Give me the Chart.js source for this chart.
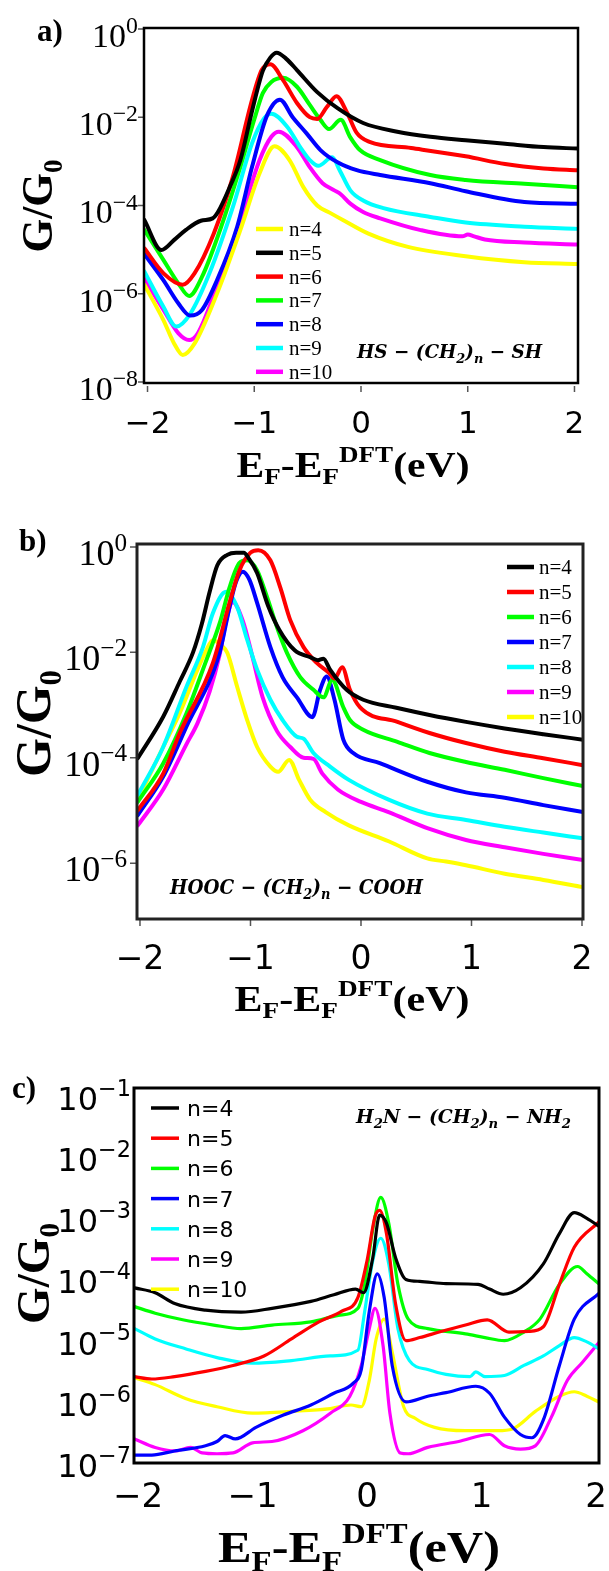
<!DOCTYPE html>
<html lang="en">
<head>
<meta charset="UTF-8">
<title>Conductance vs Fermi energy</title>
<script src="https://cdn.jsdelivr.net/npm/chart.js@4.4.1/dist/chart.umd.min.js"></script>
<style>
  html, body { margin: 0; padding: 0; background: #fff; }
  body { width: 609px; height: 1571px; position: relative; overflow: hidden; }
  canvas { position: absolute; left: 0; }
</style>
</head>
<body>
<canvas id="panelA" width="609" height="500" style="top:0px"></canvas>
<canvas id="panelB" width="609" height="540" style="top:500px"></canvas>
<canvas id="panelC" width="609" height="531" style="top:1040px"></canvas>
<script>
// ---- data: x = E_F - E_F^DFT (eV), g = G/G0 ----
const seriesNames = ['n=4', 'n=5', 'n=6', 'n=7', 'n=8', 'n=9', 'n=10'];
const xTicks = [-2, -1, 0, 1, 2];
const xTickLabels = ['\u22122', '\u22121', '0', '1', '2'];

// panel a) HS-(CH2)n-SH
const aX4 = [-2.03,-1.85,-1.75,-1.67,-1.56,-1.35,-1.13,-0.95,-0.81,-0.67,-0.54,-0.41,-0.29,-0.17,0.07,0.44,0.98,1.53,2.03];
const aG4 = [1.6e-6,2.5e-7,7.4e-8,4.1e-8,7.4e-8,1.0e-6,2.8e-5,5.4e-4,2.2e-3,1.07e-3,2.6e-4,1.0e-4,6.8e-5,4.7e-5,2.3e-5,1.15e-5,7.1e-6,5.2e-6,4.7e-6];
const aX5 = [-2.03,-1.87,-1.75,-1.64,-1.50,-1.39,-1.34,-1.23,-1.13,-1.02,-0.92,-0.85,-0.79,-0.70,-0.60,-0.41,-0.22,0.02,0.34,0.65,0.98,1.35,1.71,2.03];
const aG5 = [4.7e-5,9.8e-6,1.66e-5,2.8e-5,4.5e-5,5.1e-5,7.1e-5,2.6e-4,1.07e-3,1.4e-2,0.112,0.224,0.29,0.21,0.117,3.7e-2,1.6e-2,7.4e-3,4.7e-3,3.6e-3,3.0e-3,2.5e-3,2.1e-3,1.95e-3];
const aX6 = [-2.03,-1.85,-1.67,-1.56,-1.38,-1.20,-1.02,-0.93,-0.85,-0.73,-0.60,-0.48,-0.41,-0.32,-0.23,-0.13,-0.04,0.08,0.47,0.98,1.35,1.71,2.03];
const aG6 = [1.07e-5,2.9e-6,1.6e-6,2.9e-6,2.3e-5,4.5e-4,2.5e-2,0.117,0.158,6.9e-2,2.1e-2,1.0e-2,9.1e-3,1.7e-2,3.0e-2,1.26e-2,4.4e-3,2.75e-3,2.0e-3,1.3e-3,8.7e-4,6.9e-4,6.3e-4];
const aX7 = [-2.03,-1.85,-1.71,-1.61,-1.49,-1.31,-1.13,-1.0,-0.92,-0.84,-0.73,-0.60,-0.48,-0.38,-0.30,-0.19,-0.10,-0.01,0.18,0.65,0.98,1.53,2.03];
const aG7 = [2.8e-5,5.8e-6,1.7e-6,8.9e-7,2.4e-6,3.3e-5,7.6e-4,8.9e-3,3.5e-2,6.3e-2,7.8e-2,4.9e-2,1.9e-2,8.7e-3,5.4e-3,8.7e-3,3.5e-3,1.8e-3,1.07e-3,4.9e-4,3.8e-4,3.1e-4,2.6e-4];
const aX8 = [-2.03,-1.85,-1.71,-1.60,-1.49,-1.35,-1.16,-1.02,-0.88,-0.76,-0.64,-0.51,-0.38,-0.22,-0.04,0.18,0.65,0.98,1.53,2.03];
const aG8 = [7.9e-6,2.0e-6,6.0e-7,3.2e-7,4.3e-7,2.0e-6,3.3e-5,7.6e-4,1.1e-2,2.5e-2,1.0e-2,4.3e-3,1.8e-3,9.5e-4,6.3e-4,4.9e-4,3.2e-4,2.1e-4,1.2e-4,1.1e-4];
const aX9 = [-2.03,-1.85,-1.73,-1.60,-1.42,-1.20,-1.02,-0.91,-0.84,-0.69,-0.57,-0.48,-0.40,-0.27,-0.20,-0.10,0.02,0.21,0.65,0.98,1.53,2.03];
const aG9 = [3.2e-6,5.0e-7,1.8e-7,3.5e-7,2.9e-6,9.3e-5,2.6e-3,9.3e-3,1.2e-2,6.0e-3,2.1e-3,1.07e-3,7.9e-4,1.23e-3,6.3e-4,2.2e-4,1.3e-4,8.7e-5,5.5e-5,4.1e-5,3.3e-5,2.95e-5];
const aX10 = [-2.03,-1.85,-1.71,-1.61,-1.53,-1.35,-1.13,-0.95,-0.84,-0.77,-0.60,-0.48,-0.36,-0.25,-0.19,-0.10,0.02,0.18,0.55,0.95,1.0,1.06,1.16,1.53,2.03];
const aG10 = [2.2e-6,4.3e-7,1.26e-7,8.9e-8,1.26e-7,1.45e-6,4.7e-5,1.07e-3,3.6e-3,4.7e-3,2.1e-3,7.4e-4,3.2e-4,2.2e-4,1.8e-4,1.1e-4,7.1e-5,5.1e-5,2.8e-5,2.0e-5,2.2e-5,2.0e-5,1.7e-5,1.45e-5,1.3e-5];

// panel b) HOOC-(CH2)n-COOH
const bX4 = [-2.02,-1.79,-1.64,-1.52,-1.44,-1.37,-1.30,-1.21,-1.13,-1.06,-1.02,-0.94,-0.84,-0.74,-0.60,-0.46,-0.39,-0.34,-0.28,-0.13,0.02,0.32,0.62,0.95,1.3,1.65,2.01];
const bG4 = [9.8e-5,6.0e-4,2.8e-3,1.0e-2,3.5e-2,0.14,0.45,0.71,0.78,0.78,0.63,0.32,7.6e-2,2.7e-2,1.1e-2,8.1e-3,7.1e-3,7.6e-3,4.7e-3,1.95e-3,1.26e-3,8.9e-4,6.5e-4,4.8e-4,3.6e-4,2.8e-4,2.2e-4];
const bX5 = [-2.02,-1.79,-1.64,-1.34,-1.19,-1.10,-1.00,-0.93,-0.82,-0.73,-0.64,-0.52,-0.40,-0.29,-0.24,-0.17,-0.10,-0.01,0.33,0.62,0.95,1.3,1.65,2.01];
const bG5 = [1.0e-5,5.0e-5,2.95e-4,6.3e-3,8.7e-2,0.36,0.78,0.87,0.56,0.17,4.1e-2,1.26e-2,6.3e-3,4.1e-3,3.2e-3,5.2e-3,1.95e-3,9.1e-4,4.8e-4,2.95e-4,1.9e-4,1.3e-4,9.8e-5,7.2e-5];
const bX6 = [-2.02,-1.79,-1.58,-1.41,-1.27,-1.19,-1.10,-1.03,-0.94,-0.85,-0.76,-0.67,-0.55,-0.43,-0.34,-0.26,-0.16,-0.10,0.02,0.33,0.62,0.95,1.3,1.65,2.01];
const bG6 = [1.45e-5,7.8e-5,6.9e-4,6.2e-3,4.1e-2,0.17,0.5,0.56,0.36,0.112,3.0e-2,9.8e-3,3.4e-3,1.95e-3,1.4e-3,3.0e-3,9.1e-4,5.2e-4,3.4e-4,2.0e-4,1.23e-4,8.3e-5,5.9e-5,4.1e-5,2.9e-5];
const bX7 = [-2.02,-1.79,-1.58,-1.28,-1.19,-1.13,-1.07,-1.01,-0.94,-0.82,-0.71,-0.58,-0.44,-0.37,-0.31,-0.24,-0.16,-0.07,0.17,0.6,0.95,1.3,1.65,2.01];
const bG7 = [8.1e-6,4.4e-5,3.9e-4,9.8e-3,7.2e-2,0.22,0.34,0.24,8.7e-2,1.26e-2,3.4e-3,1.4e-3,5.9e-4,1.95e-3,3.5e-3,1.26e-3,2.2e-4,1.23e-4,7.9e-5,3.5e-5,2.2e-5,1.74e-5,1.26e-5,9.3e-6];
const bX8 = [-2.02,-1.79,-1.58,-1.43,-1.34,-1.22,-1.12,-1.03,-0.94,-0.82,-0.71,-0.58,-0.52,-0.43,-0.28,-0.11,0.25,0.6,0.95,1.3,1.65,2.01];
const bG8 = [1.95e-5,1.6e-4,2.2e-3,1.26e-2,5.6e-2,0.141,7.2e-2,1.74e-2,4.7e-3,1.26e-3,5.2e-4,2.5e-4,2.3e-4,1.23e-4,6.8e-5,3.8e-5,1.6e-5,8.7e-6,6.6e-6,4.9e-6,3.8e-6,2.95e-6];
const bX9 = [-2.02,-1.79,-1.58,-1.48,-1.37,-1.28,-1.22,-1.16,-1.07,-0.98,-0.89,-0.76,-0.64,-0.52,-0.43,-0.35,-0.21,0,0.25,0.6,0.95,1.3,1.65,2.01];
const bG9 = [5.2e-6,2.5e-5,1.8e-4,4.5e-4,1.8e-3,8.9e-3,4.0e-2,8.9e-2,4.0e-2,7.9e-3,1.4e-3,3.2e-4,1.6e-4,1.0e-4,9.5e-5,5.0e-5,2.5e-5,1.45e-5,9.3e-6,4.6e-6,2.75e-6,2.0e-6,1.5e-6,1.15e-6];
const bX10 = [-2.02,-1.79,-1.64,-1.48,-1.40,-1.34,-1.27,-1.21,-1.12,-1.03,-0.94,-0.82,-0.75,-0.65,-0.56,-0.46,-0.32,-0.11,0.25,0.6,0.77,0.95,1.3,1.65,2.01];
const bG10 = [1.6e-5,1.6e-4,7.1e-4,4.7e-3,1.1e-2,1.7e-2,1.4e-2,9.8e-3,2.2e-3,5.2e-4,1.6e-4,6.8e-5,5.4e-5,9.1e-5,3.8e-5,1.6e-5,9.3e-6,5.2e-6,2.6e-6,1.23e-6,1.07e-6,9.1e-7,6.3e-7,4.8e-7,3.5e-7];

// panel c) H2N-(CH2)n-NH2
const cX4 = [-2.03,-1.85,-1.68,-1.41,-1.10,-0.83,-0.49,-0.29,-0.10,-0.03,0.05,0.11,0.17,0.25,0.34,0.46,0.69,0.97,1.07,1.19,1.34,1.54,1.68,1.81,1.92,2.03];
const cG4 = [6.5e-5,5.4e-5,3.6e-5,2.8e-5,2.6e-5,3.0e-5,3.9e-5,5.0e-5,6.2e-5,5.4e-5,2.0e-4,1.0e-3,7.4e-4,2.0e-4,8.9e-5,8.3e-5,7.6e-5,7.4e-5,6.2e-5,5.1e-5,6.5e-5,1.6e-4,5.0e-4,1.1e-3,8.9e-4,6.5e-4];
const cX5 = [-2.03,-1.88,-1.68,-1.41,-1.17,-0.90,-0.66,-0.42,-0.22,-0.08,0,0.07,0.11,0.17,0.25,0.34,0.46,0.63,0.86,1.05,1.24,1.41,1.54,1.68,1.81,2.03];
const cG5 = [2.3e-6,2.1e-6,2.3e-6,2.8e-6,3.5e-6,5.0e-6,9.5e-6,1.8e-5,2.7e-5,4.5e-5,1.8e-4,9.5e-4,1.2e-3,5.0e-4,3.5e-5,8.9e-6,1.0e-5,1.23e-5,1.6e-5,1.95e-5,1.23e-5,1.26e-5,1.5e-5,7.4e-5,3.0e-4,7.9e-4];
const cX6 = [-2.03,-1.85,-1.61,-1.34,-1.10,-0.83,-0.49,-0.25,-0.08,-0.02,0.05,0.12,0.19,0.27,0.36,0.53,0.86,1.03,1.20,1.37,1.51,1.68,1.84,1.92,2.03];
const cG6 = [3.2e-5,2.5e-5,1.95e-5,1.6e-5,1.4e-5,1.6e-5,1.8e-5,2.3e-5,3.0e-5,7.4e-5,5.8e-4,1.95e-3,7.4e-4,7.4e-5,2.0e-5,1.4e-5,1.15e-5,1.0e-5,8.9e-6,1.23e-5,2.0e-5,7.4e-5,1.45e-4,1.1e-4,7.4e-5];
const cX7 = [-2.03,-1.88,-1.68,-1.41,-1.31,-1.24,-1.15,-0.97,-0.73,-0.49,-0.29,-0.12,-0.05,0.02,0.09,0.15,0.22,0.34,0.53,0.69,0.95,1.07,1.20,1.34,1.44,1.54,1.68,1.81,2.03];
const cG7 = [1.2e-7,1.2e-7,1.4e-7,1.7e-7,2.0e-7,2.5e-7,2.2e-7,3.4e-7,5.4e-7,7.9e-7,1.23e-6,1.8e-6,3.0e-6,2.7e-5,1.1e-4,4.5e-5,3.5e-6,8.9e-7,1.1e-6,1.26e-6,1.6e-6,1.23e-6,5.0e-7,2.6e-7,2.3e-7,4.5e-7,3.5e-6,2.0e-5,5.4e-5];
const cX8 = [-2.03,-1.85,-1.58,-1.31,-1.00,-0.66,-0.32,-0.08,-0.02,0.05,0.12,0.19,0.27,0.37,0.53,0.69,0.90,0.95,1.03,1.20,1.37,1.54,1.68,1.81,1.92,2.03];
const cG8 = [1.4e-5,9.5e-6,6.5e-6,4.7e-6,3.8e-6,4.2e-6,5.0e-6,6.2e-6,2.7e-5,1.8e-4,4.2e-4,1.6e-4,1.4e-5,4.2e-6,3.0e-6,2.5e-6,2.3e-6,2.75e-6,2.3e-6,2.4e-6,3.5e-6,5.0e-6,7.4e-6,1.0e-5,8.5e-6,6.5e-6];
const cX9 = [-2.03,-1.85,-1.68,-1.54,-1.44,-1.31,-1.17,-1.00,-0.83,-0.56,-0.32,-0.15,-0.05,0.02,0.07,0.14,0.20,0.29,0.36,0.53,0.80,1.07,1.20,1.34,1.47,1.61,1.75,1.88,2.03];
const cG9 = [2.2e-7,1.6e-7,1.4e-7,1.6e-7,1.3e-7,1.26e-7,1.3e-7,1.9e-7,2.0e-7,3.0e-7,5.8e-7,1.1e-6,3.5e-6,1.4e-5,3.0e-5,7.4e-6,5.8e-7,1.3e-7,1.26e-7,1.6e-7,2.0e-7,2.6e-7,1.7e-7,1.5e-7,1.7e-7,5.0e-7,2.0e-6,3.9e-6,8.5e-6];
const cX10 = [-2.03,-1.85,-1.58,-1.31,-1.00,-0.66,-0.32,-0.14,-0.05,0.02,0.08,0.15,0.22,0.32,0.42,0.59,0.86,1.14,1.27,1.47,1.68,1.81,1.92,2.03];
const cG10 = [2.2e-6,1.7e-6,1.0e-6,7.4e-7,5.8e-7,6.2e-7,6.9e-7,7.9e-7,7.4e-7,2.0e-6,9.5e-6,2.0e-5,5.8e-6,7.4e-7,4.8e-7,3.4e-7,3.0e-7,3.0e-7,3.2e-7,6.2e-7,1.1e-6,1.3e-6,1.1e-6,8.7e-7];

const colorsA = ['#ffff00', '#000000', '#ff0000', '#00ff00', '#0000ff', '#00ffff', '#ff00ff'];
const colorsBC = ['#000000', '#ff0000', '#00ff00', '#0000ff', '#00ffff', '#ff00ff', '#ffff00'];

// draw a run of text pieces (sub/superscripts), optionally squeezed to a width
function drawRich(ctx, parts, font, x, y, align, width) {
  const fontFor = p => (font.style || 'normal') + ' ' + (font.weight || 'normal') + ' ' +
    (font.size * (p.s || 1)).toFixed(1) + 'px ' + font.family;
  let w = 0;
  const ws = parts.map(p => { ctx.font = fontFor(p); const m = ctx.measureText(p.t).width; w += m; return m; });
  const k = width ? width / w : 1;
  ctx.save();
  ctx.translate(x, y);
  ctx.scale(k, 1);
  let cx = align === 'center' ? -w / 2 : align === 'right' ? -w : 0;
  ctx.textAlign = 'left';
  ctx.textBaseline = 'alphabetic';
  parts.forEach((p, i) => {
    ctx.font = fontFor(p);
    ctx.fillText(p.t, cx, (p.dy || 0) * font.size);
    cx += ws[i];
  });
  ctx.restore();
}

const xTitleParts = [
  { t: 'E' }, { t: 'F', s: 0.65, dy: 0.2 }, { t: '-' }, { t: 'E' }, { t: 'F', s: 0.65, dy: 0.2 },
  { t: 'DFT', s: 0.65, dy: -0.42 }, { t: '(eV)' }
];
const yTitleParts = [{ t: 'G/G' }, { t: '0', s: 0.62, dy: 0.22 }];
const serif = '"Liberation Serif", "DejaVu Serif", serif';
const sans = '"DejaVu Sans", sans-serif';

function makeDecor(d) {
  return {
    id: 'decor',
    afterDraw(chart) {
      const ctx = chart.ctx, ca = chart.chartArea;
      const sx = chart.scales.x, sy = chart.scales.y;
      ctx.save();
      // small tick marks outside the frame
      ctx.strokeStyle = '#555';
      ctx.lineWidth = 1.5;
      ctx.beginPath();
      if (d.xMark) xTicks.forEach(v => {
        const p = sx.getPixelForValue(v);
        ctx.moveTo(p, ca.bottom + d.xMark[0]); ctx.lineTo(p, ca.bottom + d.xMark[1]);
      });
      if (d.yMark) d.yTicks.forEach(v => {
        const p = sy.getPixelForValue(v);
        ctx.moveTo(ca.left + d.yMark[0], p); ctx.lineTo(ca.left + d.yMark[1], p);
      });
      ctx.stroke();
      // frame
      ctx.strokeStyle = d.frame;
      ctx.lineWidth = d.frameWidth;
      ctx.strokeRect(ca.left, ca.top, ca.right - ca.left, ca.bottom - ca.top);

      ctx.fillStyle = '#000';
      // x tick labels
      ctx.font = d.xTickSize + 'px ' + sans;
      ctx.textAlign = 'center';
      ctx.textBaseline = 'alphabetic';
      xTicks.forEach((v, i) => ctx.fillText(xTickLabels[i], sx.getPixelForValue(v), d.xTickY));
      // y tick labels 10^n
      d.yTicks.forEach((v, i) => {
        const p = sy.getPixelForValue(v);
        drawRich(ctx, [{ t: '10' }, { t: d.yExp[i], s: 0.7, dy: d.supDy }], d.yFont,
          d.yTickRight, p + d.yTickDrop, 'right');
      });
      // axis titles
      const tf = { family: serif, weight: 'bold', size: d.xTitle.size };
      drawRich(ctx, xTitleParts, tf, d.xTitle.x, d.xTitle.y, 'center', d.xTitle.width);
      ctx.save();
      ctx.translate(d.yTitle.x, d.yTitle.y);
      ctx.rotate(-Math.PI / 2);
      drawRich(ctx, yTitleParts, { family: serif, weight: 'bold', size: d.yTitle.size }, 0, 0, 'center', d.yTitle.width);
      ctx.restore();
      // panel letter
      ctx.font = 'bold ' + d.letter.size + 'px ' + serif;
      ctx.textAlign = 'left';
      ctx.fillText(d.letter.t, d.letter.x, d.letter.y);
      // legend
      const lg = d.legend;
      chart.data.datasets.forEach((ds, i) => {
        const y = lg.y0 + i * lg.step;
        ctx.strokeStyle = ds.borderColor;
        ctx.lineWidth = lg.lw;
        ctx.lineCap = 'butt';
        ctx.beginPath(); ctx.moveTo(lg.x0, y); ctx.lineTo(lg.x1, y); ctx.stroke();
        ctx.font = lg.font;
        ctx.textAlign = 'left';
        ctx.fillText(ds.label, lg.tx, y + lg.dy);
      });
      // molecule label
      drawRich(ctx, d.note.parts, { family: '"DejaVu Serif", serif', weight: 'bold', style: 'italic', size: d.note.size },
        d.note.x, d.note.y, 'left', d.note.width);
      ctx.restore();
    }
  };
}

function buildPanel(id, xs, gs, colors, lineWidth, lim, d) {
  const datasets = xs.map((xv, k) => ({
    label: seriesNames[k],
    data: xv.map((x, i) => ({ x: x, y: gs[k][i] })),
    borderColor: colors[k],
    borderWidth: lineWidth,
    borderJoinStyle: 'round',
    borderCapStyle: 'round',
    pointRadius: 0,
    fill: false,
    cubicInterpolationMode: 'monotone'
  }));
  new Chart(document.getElementById(id), {
    type: 'line',
    data: { datasets: datasets },
    options: {
      responsive: false,
      animation: false,
      layout: { padding: d.pad },
      scales: {
        x: { type: 'linear', min: lim[0], max: lim[1], display: false },
        y: { type: 'logarithmic', min: lim[2], max: lim[3], display: false }
      },
      plugins: { legend: { display: false }, tooltip: { enabled: false } }
    },
    plugins: [makeDecor(d)]
  });
}

buildPanel('panelA',
  [aX4, aX5, aX6, aX7, aX8, aX9, aX10], [aG4, aG5, aG6, aG7, aG8, aG9, aG10],
  colorsA, 4, [-2.033, 2.033, 9.5e-9, 1.05], {
    pad: { left: 144, right: 31, top: 28, bottom: 117 },
    frame: '#000', frameWidth: 2.5, xMark: [3, 9], yMark: [-6, 0],
    xTickSize: 31, xTickY: 433,
    yTicks: [1, 1e-2, 1e-4, 1e-6, 1e-8], yExp: ['0', '\u22122', '\u22124', '\u22126', '\u22128'],
    yFont: { family: serif, size: 34 }, yTickRight: 138, yTickDrop: 18, supDy: -0.41,
    xTitle: { x: 353, y: 477, size: 36, width: 233 },
    yTitle: { x: 52, y: 206, size: 45, width: 93 },
    letter: { t: 'a)', x: 37, y: 41, size: 31 },
    legend: { x0: 256, x1: 283, tx: 289, y0: 229, step: 23.8, lw: 4.5, dy: 7, font: '21px ' + serif },
    note: { parts: [{ t: 'HS \u2212 (CH' }, { t: '2', s: 0.7, dy: 0.25 }, { t: ')' }, { t: 'n', s: 0.7, dy: 0.25 }, { t: ' \u2212 SH' }],
      x: 357, y: 358, size: 19, width: 185 }
  });

buildPanel('panelB',
  [bX4, bX5, bX6, bX7, bX8, bX9, bX10], [bG4, bG5, bG6, bG7, bG8, bG9, bG10],
  colorsBC, 4, [-2.027, 2.009, 8.7e-8, 1.14], {
    pad: { left: 137, right: 26, top: 44, bottom: 121 },
    frame: '#222', frameWidth: 3, xMark: [1, 7], yMark: [-7, 0],
    xTickSize: 33, xTickY: 469,
    yTicks: [1, 1e-2, 1e-4, 1e-6], yExp: ['0', '\u22122', '\u22124', '\u22126'],
    yFont: { family: serif, size: 36 }, yTickRight: 127, yTickDrop: 18, supDy: -0.4,
    xTitle: { x: 352, y: 511, size: 36, width: 235 },
    yTitle: { x: 50, y: 223.5, size: 50, width: 107 },
    letter: { t: 'b)', x: 19, y: 51, size: 31 },
    legend: { x0: 507, x1: 534, tx: 539, y0: 67, step: 25, lw: 4.5, dy: 7, font: '21px ' + serif },
    note: { parts: [{ t: 'HOOC \u2212 (CH' }, { t: '2', s: 0.7, dy: 0.25 }, { t: ')' }, { t: 'n', s: 0.7, dy: 0.25 }, { t: ' \u2212 COOH' }],
      x: 170, y: 394, size: 20, width: 253 }
  });

buildPanel('panelC',
  [cX4, cX5, cX6, cX7, cX8, cX9, cX10], [cG4, cG5, cG6, cG7, cG8, cG9, cG10],
  colorsBC, 3.2, [-2.035, 2.026, 8.9e-8, 0.12], {
    pad: { left: 134, right: 10, top: 48, bottom: 108 },
    frame: '#000', frameWidth: 3, xMark: null, yMark: null,
    xTickSize: 34, xTickY: 467,
    yTicks: [1e-1, 1e-2, 1e-3, 1e-4, 1e-5, 1e-6, 1e-7],
    yExp: ['\u22121', '\u22122', '\u22123', '\u22124', '\u22125', '\u22126', '\u22127'],
    yFont: { family: sans, size: 32 }, yTickRight: 131, yTickDrop: 17, supDy: -0.44,
    xTitle: { x: 359, y: 522, size: 45, width: 282 },
    yTitle: { x: 49, y: 233.5, size: 47, width: 101 },
    letter: { t: 'c)', x: 12, y: 58, size: 31 },
    legend: { x0: 151, x1: 179, tx: 187, y0: 68, step: 30.2, lw: 3.5, dy: 8, font: '22px ' + sans },
    note: { parts: [{ t: 'H' }, { t: '2', s: 0.7, dy: 0.25 }, { t: 'N \u2212 (CH' }, { t: '2', s: 0.7, dy: 0.25 }, { t: ')' },
      { t: 'n', s: 0.7, dy: 0.25 }, { t: ' \u2212 NH' }, { t: '2', s: 0.7, dy: 0.25 }],
      x: 356, y: 83, size: 19, width: 215 }
  });
</script>
</body>
</html>
